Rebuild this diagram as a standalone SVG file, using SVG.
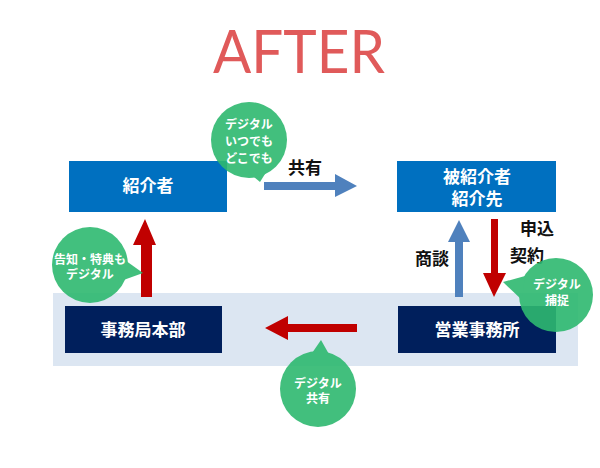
<svg xmlns="http://www.w3.org/2000/svg" width="600" height="468" viewBox="0 0 600 468">
<style>
.t{font-family:"Noto Sans CJK JP","Noto Sans",sans-serif;font-weight:bold;text-anchor:middle}
.bx{font-size:17px;fill:#fff}
.lb{font-size:17px;fill:#111}
.bt{font-size:12px;fill:#fff}
.bub{opacity:0.9}
.bub circle,.bub polygon{fill:#2EB970}
</style>
<rect width="600" height="468" fill="#fff"/>
<text x="299" y="73" font-family="Lato,'Open Sans',sans-serif" font-size="60" fill="#E05A5A" text-anchor="middle" textLength="172" lengthAdjust="spacingAndGlyphs">AFTER</text>
<rect x="53" y="293" width="525" height="73" fill="#DCE6F2"/>
<g id="shokaisha"><rect x="69" y="161" width="158" height="51" fill="#0070C0"/><text class="t bx" x="148" y="192">紹介者</text></g>
<g id="hishokaisha"><rect x="397" y="161" width="159" height="51" fill="#0070C0"/><text class="t bx" x="477" y="183">被紹介者</text><text class="t bx" x="477" y="205">紹介先</text></g>
<g id="jimukyoku"><rect x="65" y="306" width="157" height="47" fill="#001F5C"/><text class="t bx" x="143" y="336">事務局本部</text></g>
<g id="eigyo"><rect x="398" y="306" width="158" height="47" fill="#001F5C"/><text class="t bx" x="477" y="336">営業事務所</text></g>
<g id="connectors">
<polygon points="264,182 335,182 335,174 357,186 335,197 335,190 264,190" fill="#4F81BD"/>
<polygon points="141,297 141,245 133,245 145,219 156,245 152,245 152,297" fill="#C00000"/>
<polygon points="455,297 455,242 448,242 459,220 470,242 463,242 463,297" fill="#4F81BD"/>
<polygon points="491,219 498,219 498,273 506,273 494,297 483,273 491,273" fill="#C00000"/>
<polygon points="357,324 288,324 288,316 265,328 288,340 288,332 357,332" fill="#C00000"/>
</g>
<text class="t lb" x="305" y="174">共有</text>
<text class="t lb" x="537" y="235">申込</text>
<text class="t lb" x="527" y="262">契約</text>
<text class="t lb" x="432" y="265">商談</text>
<g id="bubble-top"><g class="bub"><circle cx="249" cy="140" r="38"/><polygon points="248,172 260,182 270,166"/></g>
<text class="t bt" x="249" y="129">デジタル</text><text class="t bt" x="249" y="146">いつでも</text><text class="t bt" x="249" y="163">どこでも</text></g>
<g id="bubble-left"><g class="bub"><circle cx="90" cy="265" r="38"/><polygon points="122,258 143,273 118,282"/></g>
<text class="t bt" x="90" y="264">告知・特典も</text><text class="t bt" x="90" y="279">デジタル</text></g>
<g id="bubble-right"><g class="bub"><circle cx="556" cy="295" r="37"/><polygon points="525,276 503,282 522,300"/></g>
<text class="t bt" x="557" y="289">デジタル</text><text class="t bt" x="557" y="305">捕捉</text></g>
<g id="bubble-bottom"><g class="bub"><circle cx="318" cy="389" r="38"/><polygon points="310,356 321,340 330,356"/></g>
<text class="t bt" x="318" y="388">デジタル</text><text class="t bt" x="318" y="403">共有</text></g>
</svg>
